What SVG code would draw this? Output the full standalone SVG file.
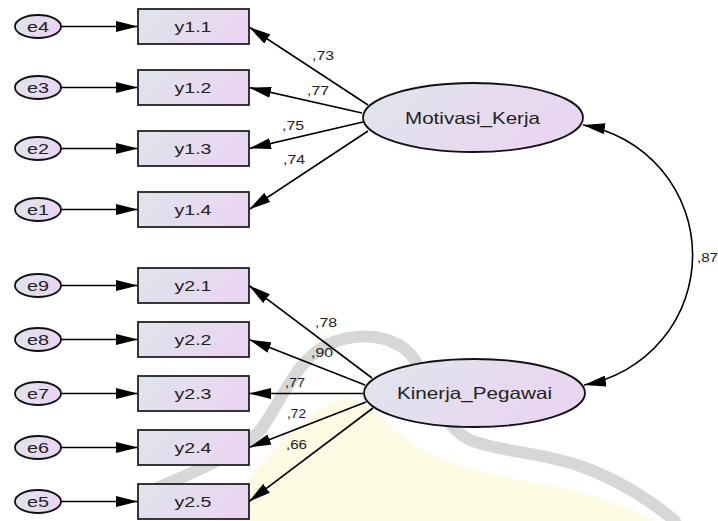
<svg xmlns="http://www.w3.org/2000/svg" width="718" height="521" viewBox="0 0 718 521">
<defs>
<linearGradient id="gBox" x1="0" y1="0" x2="1" y2="0.3">
<stop offset="0" stop-color="#dfe5ec"/>
<stop offset="1" stop-color="#ead5f1"/>
</linearGradient>
<marker id="ah" markerUnits="userSpaceOnUse" markerWidth="22" markerHeight="11" refX="22" refY="5.5" orient="auto-start-reverse" viewBox="0 0 22 11">
<path d="M0,0 L22,5.5 L0,11 z" fill="#000"/>
</marker>
<style>
.box{fill:url(#gBox);stroke:#222;stroke-width:1.8}
.ell{fill:url(#gBox);stroke:#111;stroke-width:1.8}
.lbl{font-family:"Liberation Sans",Arial,sans-serif;font-size:15px;fill:#222;text-anchor:middle}
.big{font-family:"Liberation Sans",Arial,sans-serif;font-size:16.5px;fill:#222;text-anchor:middle}
.w{font-family:"Liberation Sans",Arial,sans-serif;font-size:13px;fill:#222}
.c{stroke:#000;stroke-width:1.6;fill:none;marker-end:url(#ah)}
</style>
</defs>
<rect width="718" height="521" fill="#fff"/>
<g id="watermark">
<path d="M215,521 C245,480 290,428 330,402 C352,390 372,408 392,428 C422,455 462,470 522,480 C582,490 625,505 655,521 Z" fill="#fdfbe2"/>
<path d="M150,491 C200,470 245,450 262,428 C285,395 300,350 340,340 C370,332 400,338 415,360 C430,385 440,425 470,440 C500,452 540,452 580,466 C620,480 650,500 675,521" fill="none" stroke="#d0d0d0" stroke-width="12" stroke-linecap="round" opacity="0.85"/>
</g>
<g id="connectors">
<line class="c" x1="61" y1="26.5" x2="138" y2="26.5"/>
<line class="c" x1="61" y1="87.5" x2="138" y2="87.5"/>
<line class="c" x1="61" y1="148.5" x2="138" y2="148.5"/>
<line class="c" x1="61" y1="209.5" x2="138" y2="209.5"/>
<line class="c" x1="61" y1="285.5" x2="138" y2="285.5"/>
<line class="c" x1="61" y1="339.5" x2="138" y2="339.5"/>
<line class="c" x1="61" y1="393.5" x2="138" y2="393.5"/>
<line class="c" x1="61" y1="447.5" x2="138" y2="447.5"/>
<line class="c" x1="61" y1="501.5" x2="138" y2="501.5"/>
<line class="c" x1="368" y1="105" x2="249" y2="27"/>
<line class="c" x1="362" y1="113" x2="249" y2="87.5"/>
<line class="c" x1="363" y1="122" x2="249" y2="148.5"/>
<line class="c" x1="368" y1="131" x2="249" y2="209.5"/>
<line class="c" x1="372" y1="378" x2="249" y2="285.5"/>
<line class="c" x1="365" y1="385" x2="249" y2="339.5"/>
<line class="c" x1="363" y1="393.5" x2="249" y2="393.5"/>
<line class="c" x1="366" y1="402" x2="249" y2="447.5"/>
<line class="c" x1="373" y1="408" x2="249" y2="501.5"/>
<path class="c" d="M583,125 A132,132 0 0 1 584,385" style="marker-start:url(#ah)"/>
<text class="w" x="312" y="60" textLength="22" lengthAdjust="spacingAndGlyphs">,73</text>
<text class="w" x="307" y="95" textLength="22" lengthAdjust="spacingAndGlyphs">,77</text>
<text class="w" x="282" y="130" textLength="22" lengthAdjust="spacingAndGlyphs">,75</text>
<text class="w" x="283" y="164" textLength="22" lengthAdjust="spacingAndGlyphs">,74</text>
<text class="w" x="315" y="327" textLength="22" lengthAdjust="spacingAndGlyphs">,78</text>
<text class="w" x="311" y="357" textLength="22" lengthAdjust="spacingAndGlyphs">,90</text>
<text class="w" x="285" y="387" textLength="20" lengthAdjust="spacingAndGlyphs">,77</text>
<text class="w" x="287" y="418" textLength="19" lengthAdjust="spacingAndGlyphs">,72</text>
<text class="w" x="286" y="449" textLength="21" lengthAdjust="spacingAndGlyphs">,66</text>
<text class="w" x="697" y="262" textLength="21" lengthAdjust="spacingAndGlyphs">,87</text>
</g>
<g id="e4"><ellipse class="ell" cx="38" cy="26.5" rx="23" ry="11.5"/><text class="lbl" x="38" y="31.5" textLength="22" lengthAdjust="spacingAndGlyphs">e4</text></g>
<g id="e3"><ellipse class="ell" cx="38" cy="87.5" rx="23" ry="11.5"/><text class="lbl" x="38" y="92.5" textLength="22" lengthAdjust="spacingAndGlyphs">e3</text></g>
<g id="e2"><ellipse class="ell" cx="38" cy="148.5" rx="23" ry="11.5"/><text class="lbl" x="38" y="153.5" textLength="22" lengthAdjust="spacingAndGlyphs">e2</text></g>
<g id="e1"><ellipse class="ell" cx="38" cy="209.5" rx="23" ry="11.5"/><text class="lbl" x="38" y="214.5" textLength="22" lengthAdjust="spacingAndGlyphs">e1</text></g>
<g id="e9"><ellipse class="ell" cx="38" cy="285.5" rx="23" ry="11.5"/><text class="lbl" x="38" y="290.5" textLength="22" lengthAdjust="spacingAndGlyphs">e9</text></g>
<g id="e8"><ellipse class="ell" cx="38" cy="339.5" rx="23" ry="11.5"/><text class="lbl" x="38" y="344.5" textLength="22" lengthAdjust="spacingAndGlyphs">e8</text></g>
<g id="e7"><ellipse class="ell" cx="38" cy="393.5" rx="23" ry="11.5"/><text class="lbl" x="38" y="398.5" textLength="22" lengthAdjust="spacingAndGlyphs">e7</text></g>
<g id="e6"><ellipse class="ell" cx="38" cy="447.5" rx="23" ry="11.5"/><text class="lbl" x="38" y="452.5" textLength="22" lengthAdjust="spacingAndGlyphs">e6</text></g>
<g id="e5"><ellipse class="ell" cx="38" cy="501.5" rx="23" ry="11.5"/><text class="lbl" x="38" y="506.5" textLength="22" lengthAdjust="spacingAndGlyphs">e5</text></g>
<g id="y1.1"><rect class="box" x="138" y="9" width="111" height="35"/><text class="lbl" x="193" y="32" textLength="37" lengthAdjust="spacingAndGlyphs">y1.1</text></g>
<g id="y1.2"><rect class="box" x="138" y="70" width="111" height="35"/><text class="lbl" x="193" y="93" textLength="37" lengthAdjust="spacingAndGlyphs">y1.2</text></g>
<g id="y1.3"><rect class="box" x="138" y="131" width="111" height="35"/><text class="lbl" x="193" y="154" textLength="37" lengthAdjust="spacingAndGlyphs">y1.3</text></g>
<g id="y1.4"><rect class="box" x="138" y="192" width="111" height="35"/><text class="lbl" x="193" y="215" textLength="37" lengthAdjust="spacingAndGlyphs">y1.4</text></g>
<g id="y2.1"><rect class="box" x="138" y="268" width="111" height="35"/><text class="lbl" x="193" y="291" textLength="37" lengthAdjust="spacingAndGlyphs">y2.1</text></g>
<g id="y2.2"><rect class="box" x="138" y="322" width="111" height="35"/><text class="lbl" x="193" y="345" textLength="37" lengthAdjust="spacingAndGlyphs">y2.2</text></g>
<g id="y2.3"><rect class="box" x="138" y="376" width="111" height="35"/><text class="lbl" x="193" y="399" textLength="37" lengthAdjust="spacingAndGlyphs">y2.3</text></g>
<g id="y2.4"><rect class="box" x="138" y="430" width="111" height="35"/><text class="lbl" x="193" y="453" textLength="37" lengthAdjust="spacingAndGlyphs">y2.4</text></g>
<g id="y2.5"><rect class="box" x="138" y="484" width="111" height="35"/><text class="lbl" x="193" y="507" textLength="37" lengthAdjust="spacingAndGlyphs">y2.5</text></g>
<g id="Motivasi_Kerja"><ellipse class="ell" cx="473" cy="117.5" rx="110" ry="34.5"/><text class="big" x="472.5" y="123.5" textLength="135" lengthAdjust="spacingAndGlyphs">Motivasi_Kerja</text></g>
<g id="Kinerja_Pegawai"><ellipse class="ell" cx="474.5" cy="393" rx="110.5" ry="34"/><text class="big" x="474.5" y="399" textLength="155" lengthAdjust="spacingAndGlyphs">Kinerja_Pegawai</text></g>
</svg>
